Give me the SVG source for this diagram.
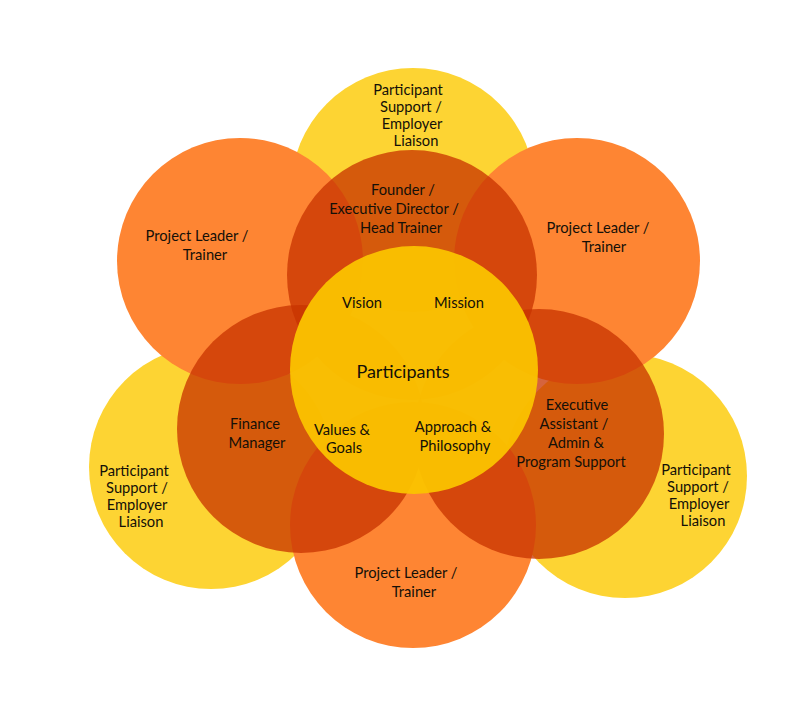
<svg xmlns="http://www.w3.org/2000/svg" width="800" height="706" viewBox="0 0 800 706">
<style>
.ly{fill:#FDD433}
.or{fill:#FE8533}
.dk{fill:#C83300;fill-opacity:0.76}
.ct{fill:#FBC300;fill-opacity:0.95}
text{font-family:Lato,"Noto Sans","Liberation Sans",sans-serif;font-size:14.7px;fill:#141008;text-anchor:middle}
.big{font-size:18px}
</style>
<rect width="800" height="706" fill="#ffffff"/>
<g id="psel-top"><circle class="ly" cx="413" cy="190" r="122"/>
<text x="408" y="95">Participant</text><text x="411" y="112">Support /</text><text x="412" y="129">Employer</text><text x="416" y="146">Liaison</text></g>
<g id="psel-left"><circle class="ly" cx="211" cy="467" r="122"/>
<text x="134" y="476">Participant</text><text x="137" y="493">Support /</text><text x="137" y="510">Employer</text><text x="141" y="527">Liaison</text></g>
<g id="psel-right"><circle class="ly" cx="625" cy="476" r="122"/>
<text x="696" y="475">Participant</text><text x="698" y="492">Support /</text><text x="699" y="509">Employer</text><text x="703" y="526">Liaison</text></g>
<g id="pl-left"><circle class="or" cx="240" cy="261" r="123"/>
<text x="197" y="241">Project Leader /</text><text x="205" y="260">Trainer</text></g>
<g id="pl-right"><circle class="or" cx="577" cy="261" r="123"/>
<text x="598" y="233">Project Leader /</text><text x="604" y="252">Trainer</text></g>
<g id="pl-bottom"><circle class="or" cx="413" cy="525" r="123"/>
<text x="406" y="578">Project Leader /</text><text x="414" y="597">Trainer</text></g>
<g id="founder"><circle class="dk" cx="412" cy="275" r="125"/>
<text x="403" y="195">Founder /</text><text x="394" y="214">Executive Director /</text><text x="401" y="233">Head Trainer</text></g>
<g id="finance"><circle class="dk" cx="301" cy="429" r="124"/>
<text x="255" y="429">Finance</text><text x="257" y="448">Manager</text></g>
<g id="exec"><circle class="dk" cx="539" cy="434" r="125"/>
<text x="577" y="410">Executive</text><text x="574" y="429">Assistant /</text><text x="576" y="448">Admin &amp;</text><text x="571" y="467">Program Support</text></g>
<g id="participants"><circle class="ct" cx="414" cy="370" r="124"/>
<text x="362" y="308">Vision</text><text x="459" y="308">Mission</text>
<text class="big" x="403" y="378">Participants</text>
<text x="342" y="435">Values &amp;</text><text x="344" y="453">Goals</text>
<text x="453" y="432">Approach &amp;</text><text x="455" y="451">Philosophy</text></g>
</svg>
